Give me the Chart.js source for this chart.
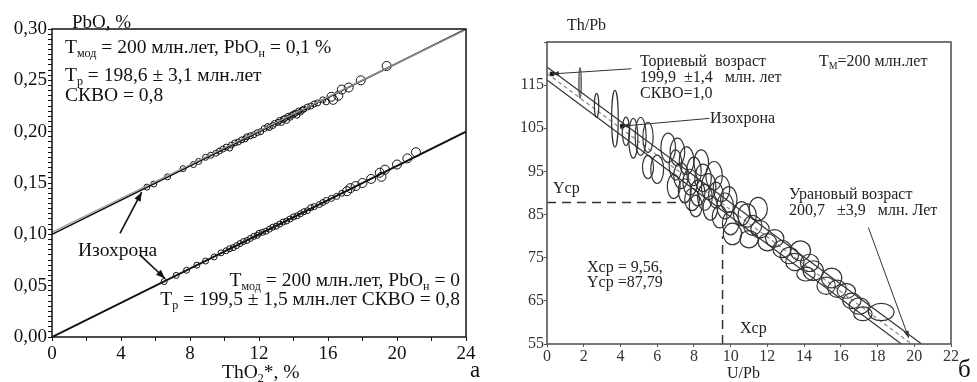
<!DOCTYPE html>
<html>
<head>
<meta charset="utf-8">
<script src="https://cdn.jsdelivr.net/npm/chart.js@4.4.1/dist/chart.umd.min.js"></script>
<style>
body { margin:0; background:#fff; width:977px; height:382px; overflow:hidden; position:relative;
       font-family:"Liberation Serif","Times New Roman","DejaVu Serif",serif; color:#111; }
.box { position:absolute; top:0; height:382px; }
#pa { left:0; width:490px; }
#pb { left:490px; width:487px; }
canvas { display:block; }
.t { position:absolute; white-space:pre; line-height:1; }
.t sub { font-size:62%; vertical-align:-0.35em; line-height:0; }
.l { font-size:19.5px; }
.r { font-size:16px; color:#222; }
</style>
</head>
<body>
<div class="box" id="pa"><canvas id="left" width="490" height="382"></canvas></div>
<div class="box" id="pb"><canvas id="right" width="487" height="382"></canvas></div>

<!-- left panel texts -->
<div class="t" style="left:72px;top:12px;font-size:19px">PbO, %</div>
<div class="t l" style="left:65px;top:37px">T<sub>мод</sub> = 200 млн.лет, PbO<sub>н</sub> = 0,1 %</div>
<div class="t l" style="left:65px;top:65px">T<sub>р</sub> = 198,6 ± 3,1 млн.лет</div>
<div class="t l" style="left:65px;top:85px">СКВО = 0,8</div>
<div class="t l" style="left:78px;top:240px">Изохрона</div>
<div class="t l" style="right:517px;top:270px">T<sub>мод</sub> = 200 млн.лет, PbO<sub>н</sub> = 0</div>
<div class="t l" style="right:517px;top:289px">T<sub>р</sub> = 199,5 ± 1,5 млн.лет СКВО = 0,8</div>
<div class="t l" style="left:222px;top:362px">ThO<sub>2</sub>*, %</div>
<div class="t" style="left:470px;top:358px;font-size:23px">а</div>

<!-- right panel texts -->
<div class="t r" style="left:567px;top:17px">Th/Pb</div>
<div class="t r" style="left:640px;top:53px">Ториевый  возраст</div>
<div class="t r" style="left:640px;top:69px">199,9  ±1,4   млн. лет</div>
<div class="t r" style="left:640px;top:85px">СКВО=1,0</div>
<div class="t r" style="left:819px;top:53px">T<sub>M</sub>=200 млн.лет</div>
<div class="t r" style="left:710px;top:110px">Изохрона</div>
<div class="t r" style="left:553px;top:180px">Ycp</div>
<div class="t r" style="left:789px;top:186px">Урановый возраст</div>
<div class="t r" style="left:789px;top:202px">200,7   ±3,9   млн. Лет</div>
<div class="t r" style="left:587px;top:259px">Xcp = 9,56,</div>
<div class="t r" style="left:587px;top:274px">Ycp =87,79</div>
<div class="t r" style="left:740px;top:320px">Xcp</div>
<div class="t r" style="left:727px;top:365px">U/Pb</div>
<div class="t" style="left:958px;top:356px;font-size:25px">б</div>

<script>
// ---- panel a: PbO vs ThO2* ----
var thoUpper = [5.5, 5.9, 6.7, 7.6, 8.2, 8.5, 8.9, 9.2, 9.5, 9.7, 9.9, 10.1, 10.3, 10.4, 10.6, 10.8,
                11.0, 11.2, 11.3, 11.5, 11.7, 11.9, 12.1, 12.3, 12.5, 12.6, 12.8, 12.9, 13.1, 13.2,
                13.3, 13.4, 13.5, 13.6, 13.7, 13.8, 13.9, 14.0, 14.1, 14.2, 14.3, 14.4, 14.5, 14.6,
                14.8, 15.0, 15.2, 15.4, 15.7, 15.9, 16.2, 16.3, 16.6, 16.8, 17.2, 17.9, 19.4];
var pboUpper = [0.146, 0.149, 0.156, 0.164, 0.168, 0.171, 0.175, 0.177, 0.179, 0.181, 0.183, 0.185,
                0.184, 0.187, 0.189, 0.190, 0.192, 0.193, 0.195, 0.196, 0.197, 0.199, 0.200, 0.203,
                0.205, 0.204, 0.206, 0.208, 0.209, 0.211, 0.209, 0.212, 0.213, 0.211, 0.215, 0.214,
                0.216, 0.217, 0.218, 0.216, 0.220, 0.219, 0.221, 0.222, 0.224, 0.225, 0.227, 0.228,
                0.231, 0.229, 0.234, 0.231, 0.235, 0.241, 0.243, 0.250, 0.264];
var thoLower = [6.5, 7.2, 7.8, 8.4, 8.9, 9.4, 9.8, 10.1, 10.3, 10.5, 10.7, 10.9, 11.1, 11.3, 11.5,
                11.7, 11.9, 12.0, 12.2, 12.4, 12.6, 12.8, 13.0, 13.2, 13.4, 13.6, 13.8, 14.0, 14.2,
                14.4, 14.6, 14.8, 15.0, 15.2, 15.5, 15.7, 15.9, 16.2, 16.5, 16.8, 17.1, 17.3, 17.6,
                18.0, 18.5, 19.0, 19.1, 19.3, 20.0, 20.6, 21.1];
var pboLower = [0.054, 0.060, 0.065, 0.070, 0.074, 0.078, 0.082, 0.084, 0.086, 0.087, 0.089, 0.091,
                0.093, 0.094, 0.096, 0.098, 0.099, 0.101, 0.102, 0.103, 0.105, 0.107, 0.108, 0.110,
                0.112, 0.113, 0.115, 0.117, 0.118, 0.120, 0.122, 0.123, 0.126, 0.127, 0.129, 0.131,
                0.133, 0.135, 0.137, 0.140, 0.142, 0.145, 0.147, 0.150, 0.154, 0.160, 0.156, 0.163,
                0.168, 0.174, 0.180];
var isoX = [0, 24];
var isoUpperY = [0.10, 0.30];
var isoLowerY = [0.00, 0.20];
var thoLabels = [0, 4, 8, 12, 16, 20, 24];
var pboLabels = [0, 0.05, 0.10, 0.15, 0.20, 0.25, 0.30];

// ---- panel b: Th/Pb vs U/Pb ----
var ellX  = [1.8, 2.7, 3.7, 4.3, 4.7, 5.1, 5.5, 5.5, 6.0, 6.6, 7.1, 7.0, 7.3, 7.6, 7.8, 7.5, 8.0, 8.2,
             8.1, 8.5, 8.6, 8.8, 8.9, 9.1, 9.2, 9.4, 9.5, 9.7, 9.9, 10.0, 6.9, 7.9, 8.4, 10.6, 10.1,
             10.9, 11.0, 11.5, 11.6, 12.0, 12.8, 13.2, 13.8, 14.1, 14.5, 15.5, 15.8, 16.3, 17.0, 17.2,
             18.2, 11.2, 12.4, 13.5, 14.3, 15.2, 16.6];
var ellY  = [115.5, 110.3, 107.2, 104.3, 102.7, 103.1, 102.9, 96.0, 95.5, 100.5, 99.5, 96.5, 94.0,
             97.5, 92.5, 90.5, 95.0, 90.0, 87.0, 93.5, 89.0, 91.5, 86.5, 94.0, 89.5, 84.5, 91.0, 87.0,
             88.5, 83.0, 91.5, 88.5, 97.0, 85.2, 80.5, 84.8, 79.3, 86.3, 81.6, 78.6, 77.0, 75.5, 76.6,
             71.2, 72.0, 70.3, 67.8, 67.3, 63.8, 62.0, 62.4, 82.5, 79.5, 74.0, 73.8, 68.5, 65.0];
var ellRx = [0.06, 0.12, 0.18, 0.2, 0.25, 0.3, 0.28, 0.3, 0.35, 0.4, 0.4, 0.35, 0.4, 0.4, 0.4, 0.35,
             0.4, 0.4, 0.35, 0.45, 0.4, 0.4, 0.4, 0.45, 0.4, 0.4, 0.45, 0.45, 0.45, 0.45, 0.35, 0.4,
             0.4, 0.45, 0.5, 0.5, 0.5, 0.5, 0.5, 0.5, 0.5, 0.5, 0.55, 0.5, 0.55, 0.55, 0.5, 0.5, 0.55,
             0.5, 0.7, 0.5, 0.5, 0.5, 0.5, 0.5, 0.5];
var ellRy = [3.5, 2.8, 6.6, 3.3, 4.6, 4.4, 3.5, 2.7, 3.3, 3.4, 3.2, 3.5, 3.0, 3.2, 3.0, 2.8, 3.3, 3.0,
             2.5, 3.2, 3.0, 3.0, 2.8, 3.3, 3.0, 2.6, 3.0, 3.0, 3.0, 2.7, 2.8, 2.6, 3.0, 2.8, 2.5, 2.7,
             2.0, 2.7, 2.0, 2.0, 2.0, 1.9, 2.3, 1.6, 2.3, 2.3, 2.0, 1.7, 1.9, 1.6, 2.0, 2.3, 2.0, 2.0,
             2.0, 2.0, 1.8];
var bandUpperX = [0, 20.4],  bandUpperY = [119.2, 55];
var bandLowerX = [0, 19.3],  bandLowerY = [116.2, 55];
var bandMidX   = [0, 19.85], bandMidY   = [117.7, 55];
var meanX = 9.56, meanY = 87.79;

function pts(xs, ys) { return xs.map(function(x, i) { return {x: x, y: ys[i]}; }); }
function comma(v, d) { return v.toFixed(d).replace('.', ','); }

var serif = '"Liberation Serif", "Times New Roman", "DejaVu Serif", serif';

// frame + arrows + ellipses plugin
var extras = {
    id: 'extras',
    afterDatasetsDraw: function(chart) {
        var ctx = chart.ctx, a = chart.chartArea;
        var xs = chart.scales.x, ys = chart.scales.y;
        var o = chart.options.plugins.extras;
        ctx.save();
        // ellipses
        chart.data.datasets.forEach(function(ds) {
            if (!ds.ellipses) return;
            ctx.strokeStyle = ds.ellColor;
            ctx.lineWidth = 1.2;
            ds.data.forEach(function(p) {
                var cx = xs.getPixelForValue(p.x), cy = ys.getPixelForValue(p.y);
                var rx = Math.abs(xs.getPixelForValue(p.x + p.rx) - cx);
                var ry = Math.abs(ys.getPixelForValue(p.y + p.ry) - cy);
                ctx.beginPath();
                ctx.ellipse(cx, cy, Math.max(rx, 0.8), ry, 0, 0, Math.PI * 2);
                ctx.stroke();
            });
        });
        // arrows
        (o.arrows || []).forEach(function(ar) {
            var x1 = xs.getPixelForValue(ar[0]), y1 = ys.getPixelForValue(ar[1]);
            var x2 = xs.getPixelForValue(ar[2]), y2 = ys.getPixelForValue(ar[3]);
            ctx.strokeStyle = o.arrowColor; ctx.fillStyle = o.arrowColor;
            ctx.lineWidth = o.arrowWidth;
            ctx.beginPath(); ctx.moveTo(x1, y1); ctx.lineTo(x2, y2); ctx.stroke();
            var ang = Math.atan2(y2 - y1, x2 - x1), L = o.headLen, W = o.headW;
            ctx.beginPath();
            ctx.moveTo(x2, y2);
            ctx.lineTo(x2 - L * Math.cos(ang) + W * Math.sin(ang), y2 - L * Math.sin(ang) - W * Math.cos(ang));
            ctx.lineTo(x2 - L * Math.cos(ang) - W * Math.sin(ang), y2 - L * Math.sin(ang) + W * Math.cos(ang));
            ctx.closePath(); ctx.fill();
        });
        // frame
        ctx.strokeStyle = o.frameColor;
        ctx.lineWidth = o.frameWidth;
        ctx.strokeRect(a.left, a.top, a.right - a.left, a.bottom - a.top);
        ctx.restore();
    }
};

// ---------- left chart ----------
new Chart(document.getElementById('left'), {
    type: 'scatter',
    data: {
        datasets: [
            { data: pts(isoX, [isoUpperY[0] + 0.002, isoUpperY[1] - 0.0005]), showLine: true, borderColor: '#999',
              borderWidth: 1.2, pointRadius: 0 },
            { data: pts(isoX, isoUpperY), showLine: true, borderColor: '#111', borderWidth: 1.6, pointRadius: 0 },
            { data: pts(isoX, isoLowerY), showLine: true, borderColor: '#111', borderWidth: 2, pointRadius: 0 },
            { data: pts(thoUpper, pboUpper), pointStyle: 'circle', borderColor: '#111', borderWidth: 1,
              backgroundColor: 'rgba(0,0,0,0)', pointRadius: function(c) { return c.raw && c.raw.x > 16 ? 4.5 : 3; } },
            { data: pts(thoLower, pboLower), pointStyle: 'circle', borderColor: '#111', borderWidth: 1,
              backgroundColor: 'rgba(0,0,0,0)', pointRadius: function(c) { return c.raw && c.raw.x > 17 ? 4.5 : 3; } }
        ]
    },
    options: {
        responsive: false, maintainAspectRatio: false, animation: false, devicePixelRatio: 1,
        layout: { padding: { left: 0, right: 24, top: 29, bottom: 0 } },
        plugins: {
            legend: { display: false }, tooltip: { enabled: false },
            extras: { arrows: [[3.94, 0.101, 5.2, 0.141], [5.1, 0.080, 6.55, 0.057]],
                      arrowColor: '#111', arrowWidth: 1.6, headLen: 9, headW: 3.5,
                      frameColor: '#111', frameWidth: 1.5 }
        },
        scales: {
            x: {
                type: 'linear', min: 0, max: 24,
                afterFit: function(s) { s.height = 45; },
                grid: { drawOnChartArea: false, tickLength: 4, color: '#111' },
                border: { display: false },
                ticks: { stepSize: 2, autoSkip: false, maxRotation: 0, padding: 2, color: '#111',
                         font: { family: serif, size: 19 },
                         callback: function(v) { return thoLabels.indexOf(v) >= 0 ? String(v) : ''; } }
            },
            y: {
                type: 'linear', min: 0, max: 0.3,
                afterFit: function(s) { s.width = 52; },
                grid: { drawOnChartArea: false, tickLength: 4, color: '#111' },
                border: { display: false },
                ticks: { stepSize: 0.005, autoSkip: false, padding: 1, color: '#111',
                         font: { family: serif, size: 19 },
                         callback: function(v) {
                             for (var i = 0; i < pboLabels.length; i++) {
                                 if (Math.abs(v - pboLabels[i]) < 1e-6) return comma(pboLabels[i], 2);
                             }
                             return '';
                         } }
            }
        }
    },
    plugins: [extras]
});

// ---------- right chart ----------
new Chart(document.getElementById('right'), {
    type: 'scatter',
    data: {
        datasets: [
            { data: pts(bandUpperX, bandUpperY), showLine: true, borderColor: '#333', borderWidth: 1.2, pointRadius: 0 },
            { data: pts(bandLowerX, bandLowerY), showLine: true, borderColor: '#333', borderWidth: 1.2, pointRadius: 0 },
            { data: pts(bandMidX, bandMidY), showLine: true, borderColor: '#888', borderWidth: 1.2,
              borderDash: [4, 3], pointRadius: 0 },
            { data: [{x: 0, y: meanY}, {x: 7.4, y: meanY}], showLine: true, borderColor: '#333',
              borderWidth: 1.5, borderDash: [9, 6], pointRadius: 0 },
            { data: [{x: meanX, y: 55}, {x: meanX, y: 80}], showLine: true, borderColor: '#333',
              borderWidth: 1.5, borderDash: [9, 6], pointRadius: 0 },
            { data: ellX.map(function(x, i) { return {x: x, y: ellY[i], rx: ellRx[i], ry: ellRy[i]}; }),
              pointRadius: 0, ellipses: true, ellColor: '#333' },
            { data: [{x: 0.27, y: 117.6}, {x: 4.1, y: 105.5}], pointStyle: 'rect', pointRadius: 2.5,
              backgroundColor: '#111', borderColor: '#111' }
        ]
    },
    options: {
        responsive: false, maintainAspectRatio: false, animation: false, devicePixelRatio: 1,
        layout: { padding: { left: 0, right: 26, top: 42, bottom: 0 } },
        plugins: {
            legend: { display: false }, tooltip: { enabled: false },
            extras: { arrows: [[4.6, 118.8, 0.27, 117.6], [8.85, 107.3, 4.1, 105.5], [17.5, 82.0, 19.7, 56.4]],
                      arrowColor: '#333', arrowWidth: 1, headLen: 7, headW: 2.5,
                      frameColor: '#555', frameWidth: 1.6 }
        },
        scales: {
            x: {
                type: 'linear', min: 0, max: 22,
                afterFit: function(s) { s.height = 38; },
                grid: { drawOnChartArea: false, tickLength: 3, color: '#555' },
                border: { display: false },
                ticks: { stepSize: 2, autoSkip: false, maxRotation: 0, padding: 0, color: '#333',
                         font: { family: serif, size: 16 } }
            },
            y: {
                type: 'linear', min: 55, max: 125,
                afterFit: function(s) { s.width = 57; },
                grid: { drawOnChartArea: false, tickLength: 3, color: '#555' },
                border: { display: false },
                ticks: { stepSize: 10, autoSkip: false, padding: 0, color: '#333',
                         font: { family: serif, size: 16 },
                         callback: function(v) { return v >= 125 ? '' : String(v); } }
            }
        }
    },
    plugins: [extras]
});
</script>
</body>
</html>
